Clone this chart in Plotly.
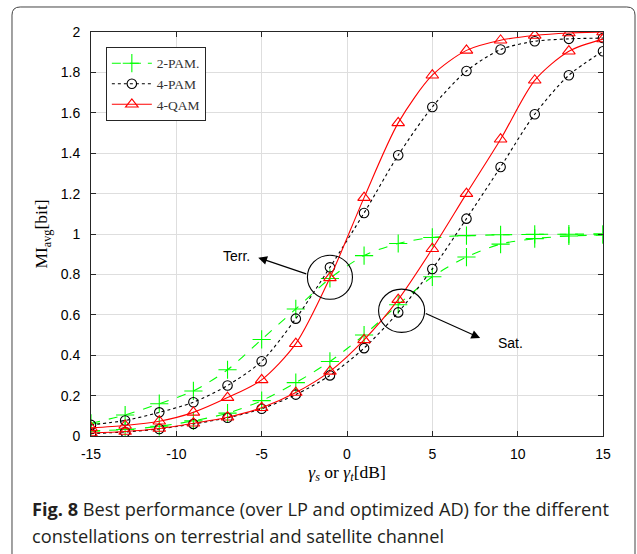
import plotly.graph_objects as go

# SNR grid (dB)
snr_db = [-15, -13, -11, -9, -7, -5, -3, -1, 1, 3, 5, 7, 9, 11, 13, 15]

# Average mutual information (bit) - terrestrial channel
pam2_terr = [0.063, 0.104, 0.160, 0.223, 0.328, 0.478, 0.629, 0.780, 0.893, 0.953, 0.983, 0.992, 0.996, 0.998, 0.999, 1.000]
pam4_terr = [0.055, 0.077, 0.117, 0.167, 0.250, 0.370, 0.581, 0.835, 1.104, 1.390, 1.629, 1.807, 1.913, 1.954, 1.966, 1.970]
qam4_terr = [0.040, 0.052, 0.073, 0.117, 0.190, 0.278, 0.457, 0.783, 1.180, 1.550, 1.786, 1.909, 1.959, 1.983, 1.995, 2.000]

# Average mutual information (bit) - satellite channel
pam2_sat = [0.025, 0.032, 0.048, 0.075, 0.113, 0.175, 0.264, 0.369, 0.500, 0.650, 0.788, 0.886, 0.950, 0.977, 0.990, 0.995]
pam4_sat = [0.012, 0.020, 0.035, 0.060, 0.090, 0.135, 0.205, 0.300, 0.435, 0.612, 0.827, 1.076, 1.332, 1.593, 1.786, 1.905]
qam4_sat = [0.015, 0.022, 0.037, 0.063, 0.093, 0.140, 0.215, 0.320, 0.476, 0.675, 0.927, 1.200, 1.469, 1.761, 1.905, 1.965]

x_ticks = [-15, -10, -5, 0, 5, 10, 15]
y_ticks = [0, 0.2, 0.4, 0.6, 0.8, 1, 1.2, 1.4, 1.6, 1.8, 2]

series = [
    ("2-PAM.", pam2_terr, pam2_sat, "#00ff00", "dash", "cross-thin", 13),
    ("4-PAM", pam4_terr, pam4_sat, "#000000", "dot", "circle-open", 9.5),
    ("4-QAM", qam4_terr, qam4_sat, "#ff0000", "solid", "triangle-up-open", 11),
]

fig = go.Figure()
for name, terr, sat, color, dash, symbol, msize in series:
    for ys, show in ((terr, True), (sat, False)):
        fig.add_trace(go.Scatter(
            x=snr_db, y=ys, name=name, legendgroup=name, showlegend=show,
            mode="lines+markers",
            line=dict(color=color, width=1.1, dash=dash, shape="spline", smoothing=0.8),
            marker=dict(symbol=symbol, size=msize, color=color,
                        line=dict(color=color, width=1.1)),
        ))

# Region markers and their labels
terr_circle = dict(cx=-1.0, cy=0.786, rx=1.32, ry=0.109)
sat_circle = dict(cx=3.2, cy=0.62, rx=1.35, ry=0.107)
for c in (terr_circle, sat_circle):
    fig.add_shape(type="circle", xref="x", yref="y",
                  x0=c["cx"] - c["rx"], x1=c["cx"] + c["rx"],
                  y0=c["cy"] - c["ry"], y1=c["cy"] + c["ry"],
                  line=dict(color="black", width=1.1))

label_font = dict(family="Liberation Sans, Arial, sans-serif", size=14, color="black")
fig.add_annotation(x=-5.2, y=0.883, ax=-2.3, ay=0.80, axref="x", ayref="y",
                   xref="x", yref="y", text="", showarrow=True,
                   arrowhead=2, arrowsize=1.6, arrowwidth=1.1, arrowcolor="black")
fig.add_annotation(x=-6.45, y=0.893, text="Terr.", showarrow=False, font=label_font)
fig.add_annotation(x=7.8, y=0.485, ax=4.53, ay=0.61, axref="x", ayref="y",
                   xref="x", yref="y", text="", showarrow=True,
                   arrowhead=2, arrowsize=1.6, arrowwidth=1.1, arrowcolor="black")
fig.add_annotation(x=9.6, y=0.46, text="Sat.", showarrow=False, font=label_font)

# Rounded figure frame (open at the bottom)
x0f, x1f, ytf, ybf = -0.1543, 1.0625, 1.0619, -0.32
rx, ry = 0.016, 0.02
frame_path = (f"M {x0f},{ybf} L {x0f},{ytf - ry} Q {x0f},{ytf} {x0f + rx},{ytf} "
              f"L {x1f - rx},{ytf} Q {x1f},{ytf} {x1f},{ytf - ry} L {x1f},{ybf}")
fig.add_shape(type="path", xref="paper", yref="paper", path=frame_path,
              line=dict(color="#444444", width=1))

# Caption
cap_font = dict(family="Open Sans, Noto Sans, sans-serif", size=18.2, color="#231f20")
fig.add_annotation(xref="paper", yref="paper", x=-0.119, y=-0.181,
                   xanchor="left", yanchor="middle", showarrow=False, font=cap_font,
                   text="<b>Fig. 8</b> Best performance (over LP and optimized AD) for the different")
fig.add_annotation(xref="paper", yref="paper", x=-0.119, y=-0.248,
                   xanchor="left", yanchor="middle", showarrow=False, font=cap_font,
                   text="constellations on terrestrial and satellite channel")

axis_common = dict(
    showline=True, linecolor="#262626", linewidth=1, mirror="ticks",
    ticks="inside", ticklen=5, tickcolor="#262626",
    showgrid=True, gridcolor="#dedede", gridwidth=1, zeroline=False,
    tickfont=dict(family="Liberation Sans, Arial, sans-serif", size=14, color="black"),
)
title_font = dict(family="Liberation Serif, Times New Roman, serif", size=17.5, color="black")

fig.update_xaxes(range=[-15, 15], tickvals=x_ticks, ticktext=[str(v) for v in x_ticks],
                 ticklabelstandoff=5,
                 title=dict(text="<i>γ</i><sub><i>s</i></sub> or <i>γ</i><sub><i>t</i></sub>[dB]",
                            font=title_font, standoff=0),
                 **axis_common)
fig.update_yaxes(range=[0, 2], tickvals=y_ticks, ticktext=[f"{v:g}" for v in y_ticks],
                 ticklabelstandoff=7,
                 title=dict(text="MI<sub>avg</sub>[bit]", font=title_font, standoff=8),
                 **axis_common)

fig.update_layout(
    width=637, height=554,
    margin=dict(l=91, r=34, t=32, b=118),
    paper_bgcolor="white", plot_bgcolor="white",
    legend=dict(x=0.029, y=0.963, xanchor="left", yanchor="top",
                bgcolor="white", bordercolor="#262626", borderwidth=1,
                font=dict(family="Liberation Serif, Times New Roman, serif", size=13.5, color="#333333"),
                tracegroupgap=0, itemwidth=40),
    showlegend=True,
)

fig.write_html("out.html")
